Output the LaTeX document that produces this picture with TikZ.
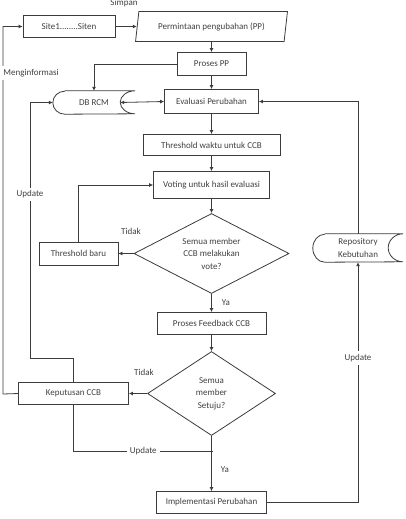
\documentclass[tikz,border=0pt]{standalone}
\usepackage{fontspec}
\setmainfont{Carlito}
\usepackage{tikz}
\usetikzlibrary{shapes.geometric, arrows.meta, positioning}
\definecolor{linegray}{RGB}{60, 60, 60}
\definecolor{textgray}{RGB}{65, 65, 65}

\begin{document}
\begin{tikzpicture}[
  x=1pt, y=1pt,
  node distance=12pt and 16pt,
  box/.style={
    rectangle, draw=linegray, line width=0.8pt,
    minimum height=22pt, text=textgray,
    font=\fontsize{9}{10}\selectfont, inner sep=2pt
  },
  decision/.style={
    diamond, draw=linegray, line width=0.8pt, inner sep=0pt,
    text=textgray, align=center,
    font=\fontsize{9}{12.5}\selectfont
  },
  store/.style={
    rectangle, inner sep=0pt, text=textgray, align=center,
    font=\fontsize{9}{12.5}\selectfont
  },
  note/.style={fill=white, text=textgray, inner sep=1.5pt, font=\fontsize{9}{10}\selectfont},
  arrow/.style={-{Latex[length=4pt,width=4pt]}, line width=0.8pt, draw=linegray},
  dblarrow/.style={{Latex[length=4pt,width=4pt]}-{Latex[length=4pt,width=4pt]}, line width=0.8pt, draw=linegray},
  line/.style={line width=0.8pt, draw=linegray}
]
  \clip (0,0) rectangle (405,-519);
  \fill[white] (0,0) rectangle (405,-519);

  % Top row
  \node[box, minimum width=92pt] (site) at (69,-26.5) {Site1........Siten};
  \node[trapezium, trapezium left angle=80, trapezium right angle=100, trapezium stretches=true,
        draw=linegray, line width=0.8pt, minimum width=152pt, minimum height=30pt,
        text=textgray, font=\fontsize{9}{10}\selectfont] (pp) at (211.5,-26.5) {Permintaan pengubahan (PP)};
  \node[note, inner sep=0pt] (simpan) at (124,-3) {Simpan};

  % Main column
  \node[box, minimum width=69pt, minimum height=23pt, below=10.2pt of pp] (proses) {Proses PP};
  \node[box, minimum width=94pt, minimum height=24pt, below=13.2pt of proses] (eval) {Evaluasi Perubahan};
  \node[box, minimum width=137pt, minimum height=21pt, below=20.2pt of eval] (thw) {Threshold waktu untuk CCB};
  \node[box, minimum width=116pt, minimum height=27pt, below=15.2pt of thw] (vote) {Voting untuk hasil evaluasi};
  \node[decision, aspect=1.9, minimum width=155pt, minimum height=80pt, below=14.2pt of vote] (d1)
    {Semua member\\CCB melakukan\\vote?};
  \node[box, minimum width=109pt, below=18.2pt of d1] (fb) {Proses Feedback CCB};
  \node[decision, aspect=1.5, minimum width=128pt, minimum height=84pt, below=16.2pt of fb] (d2)
    {Semua\\member\\Setuju?};
  \node[box, minimum width=110pt, below=55.2pt of d2] (impl) {Implementasi Perubahan};

  % Side nodes
  \node[box, minimum width=79pt, minimum height=23pt, left=15.2pt of d1] (tbaru) {Threshold baru};
  \node[box, minimum width=110pt, left=18.2pt of d2] (kep) {Keputusan CCB};
  \node[store, minimum width=82pt, minimum height=23pt] (dbrcm) at (94,-102.5) {DB RCM};
  \node[store, minimum width=90pt, minimum height=28pt] (repo) at (358,-248) {Repository\\Kebutuhan};

  % Store outlines
  \draw[line] ([xshift=12pt]dbrcm.north west) -- (dbrcm.north east)
    arc[start angle=90, end angle=270, x radius=15pt, y radius=11.5pt]
    -- ([xshift=12pt]dbrcm.south west)
    arc[start angle=270, end angle=90, x radius=12pt, y radius=11.5pt];
  \draw[line] ([xshift=12pt]repo.north west) -- (repo.north east)
    arc[start angle=90, end angle=270, x radius=15pt, y radius=14pt]
    -- ([xshift=12pt]repo.south west)
    arc[start angle=270, end angle=90, x radius=12pt, y radius=14pt];

  % Labels
  \node[note, inner sep=0pt] (tidak1) at (131,-231) {Tidak};
  \node[note, inner sep=0pt] (tidak2) at (144,-372) {Tidak};

  % Bend points
  \coordinate (updA) at (30,-358);
  \coordinate (infA) at (3,-394);
  \coordinate (joinA) at (213,-451);

  % Arrows
  \draw[arrow] (site) -- (pp);
  \draw[arrow] (pp) -- (proses);
  \draw[arrow] (proses) -- (eval);
  \draw[arrow] (proses.west) -| (dbrcm.north);
  \draw[dblarrow] ([xshift=-15pt]dbrcm.east) -- (eval.west);
  \draw[arrow] (eval) -- (thw);
  \draw[arrow] (thw) -- (vote);
  \draw[arrow] (vote) -- (d1);
  \draw[arrow] (d1) -- node[note, right=10pt, inner sep=0pt] (ya1) {Ya} (fb);
  \draw[arrow] (d1.west) -- (tbaru.east);
  \draw[arrow] (tbaru.north) |- (vote.west);
  \draw[arrow] (fb) -- (d2);
  \draw[arrow] (d2.west) -- (kep.east);
  \draw[arrow] (d2) -- node[note, right=9pt, pos=0.62, inner sep=0pt] (ya2) {Ya} (impl);
  \draw[line] (kep.south) |- node[note, pos=0.75, inner sep=3pt] (upd3) {Update} (joinA);
  \draw[arrow] (kep.north) |- (updA) |- node[note, pos=0.32, inner sep=3pt] (upd1) {Update} (dbrcm.west);
  \draw[arrow] (kep.west) -- (infA) |- node[note, pos=0.437, anchor=west, xshift=-3pt, inner sep=3pt] (info) {Menginformasi} (site.west);
  \draw[arrow] (repo.north) |- (eval.east);
  \draw[arrow] (impl.east) -| node[note, pos=0.8, inner sep=3pt] (upd2) {Update} (repo.south);
\end{tikzpicture}
\end{document}
